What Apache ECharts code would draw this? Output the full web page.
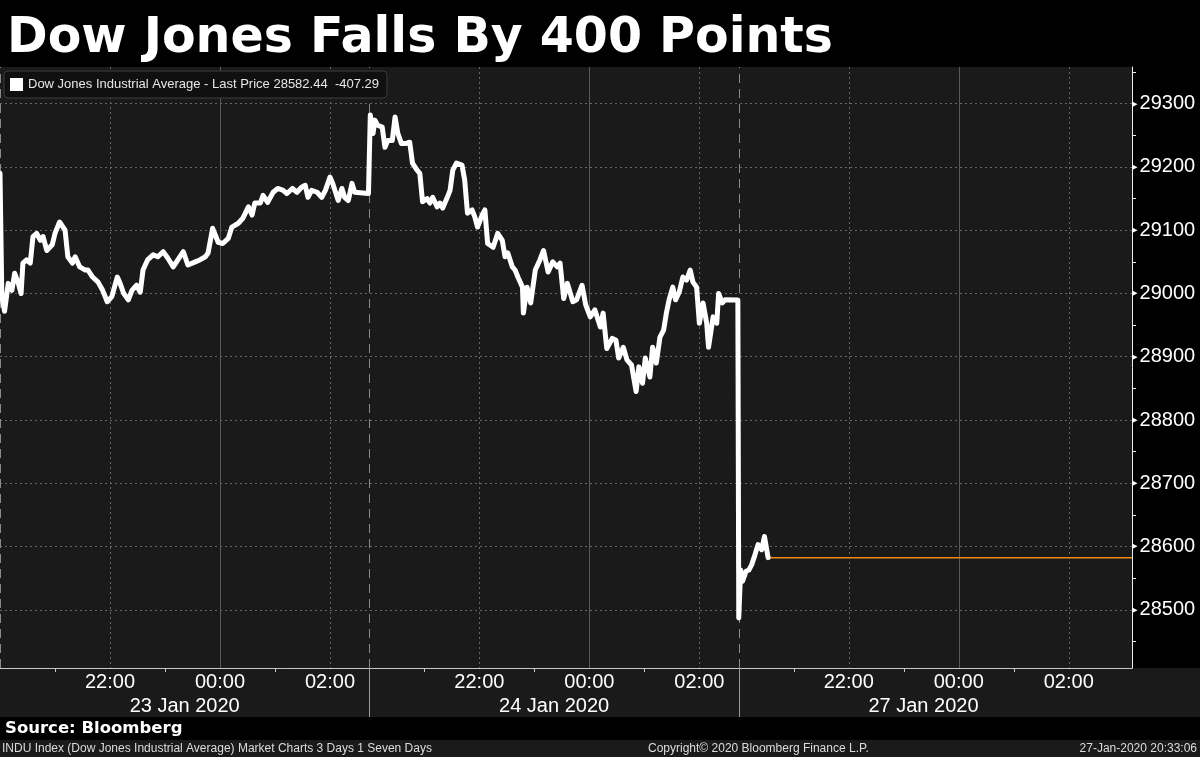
<!DOCTYPE html>
<html>
<head>
<meta charset="utf-8">
<title>Dow Jones Falls By 400 Points</title>
<script src="https://cdn.jsdelivr.net/npm/echarts@6.0.0/dist/echarts.min.js"></script>
<style>
  html, body { margin: 0; padding: 0; background: #000; }
  #chart { width: 1200px; height: 757px; }
</style>
</head>
<body>
<div id="chart"></div>
<script>
// x values are minutes since 20:00 of each session, one segment per trading day
const dayLength = 403
const axisMax = 1235
const dayNames = ['23 Jan 2020', '24 Jan 2020', '27 Jan 2020']
const hourTicks = [120, 240, 360]       // 22:00, 00:00, 02:00
const hourLabels = ['22:00', '00:00', '02:00']
const oddHourTicks = [60, 180, 300]     // 21:00, 23:00, 01:00
const priceTicks = [28500, 28600, 28700, 28800, 28900, 29000, 29100, 29200, 29300]
const priceMinorTicks = [28450, 28550, 28650, 28750, 28850, 28950, 29050, 29150, 29250, 29350]
const yMin = 28408
const yMax = 29358
const prevClose = 28989.73
const seriesName = 'Dow Jones Industrial Average'

const day1 = [
  [0, 29190], [2, 28995], [5, 28972], [9, 29016], [13, 29005], [16, 29032], [20, 29016], [23, 29000],
  [25, 29048], [29, 29053], [33, 29048], [36, 29090], [40, 29095], [44, 29084], [47, 29090], [51, 29068],
  [57, 29077], [60, 29095], [65, 29113], [71, 29100], [74, 29058], [79, 29048], [82, 29058], [87, 29042],
  [93, 29037], [96, 29037], [101, 29026], [107, 29018], [112, 29005], [117, 28987], [122, 28995], [128, 29026],
  [131, 29016], [135, 29000], [140, 28990], [144, 29005], [149, 29013], [153, 29002], [156, 29037], [161, 29053],
  [167, 29061], [172, 29058], [178, 29066], [183, 29056], [189, 29042], [194, 29053], [200, 29066], [205, 29045],
  [213, 29050], [218, 29053], [224, 29058], [227, 29064], [232, 29103], [238, 29081], [243, 29079], [249, 29087],
  [253, 29105], [260, 29111], [265, 29119], [271, 29137], [275, 29124], [278, 29143], [284, 29143], [287, 29155],
  [292, 29144], [298, 29160], [303, 29166], [309, 29163], [313, 29158], [319, 29166], [324, 29160], [329, 29168],
  [333, 29171], [336, 29152], [340, 29163], [346, 29160], [351, 29152], [355, 29163], [360, 29184], [363, 29174],
  [369, 29147], [373, 29166], [376, 29152], [380, 29147], [384, 29174], [387, 29160], [402, 29158]
]
const day2 = [
  [1, 29282], [4, 29253], [6, 29274], [9, 29266], [14, 29263], [17, 29231], [20, 29242], [25, 29242],
  [28, 29279], [31, 29253], [35, 29237], [39, 29237], [44, 29239], [47, 29206], [52, 29195], [55, 29190],
  [58, 29145], [63, 29150], [66, 29143], [69, 29152], [74, 29137], [77, 29143], [80, 29135], [85, 29152],
  [88, 29163], [91, 29195], [95, 29206], [101, 29203], [104, 29179], [107, 29127], [112, 29132], [115, 29121],
  [118, 29105], [123, 29124], [126, 29132], [129, 29079], [135, 29073], [140, 29095], [145, 29084], [148, 29058],
  [151, 29064], [156, 29042], [159, 29037], [162, 29026], [167, 29010], [168, 28969], [172, 29010], [176, 28985],
  [181, 29037], [186, 29053], [190, 29068], [195, 29034], [200, 29050], [205, 29042], [208, 29048], [212, 28992],
  [216, 29016], [222, 28987], [226, 28990], [232, 29013], [236, 28982], [241, 28963], [246, 28974], [252, 28947],
  [255, 28969], [259, 28913], [265, 28929], [269, 28926], [272, 28898], [277, 28915], [281, 28895], [286, 28887],
  [291, 28845], [294, 28884], [298, 28858], [301, 28898], [306, 28868], [309, 28915], [313, 28890], [317, 28931],
  [321, 28942], [324, 28969], [327, 28990], [331, 29010], [334, 28990], [338, 29002], [342, 29026], [346, 29021],
  [350, 29037], [353, 29018], [357, 29010], [360, 28953], [364, 28985], [368, 28953], [370, 28915], [375, 28963],
  [379, 28953], [381, 29000], [385, 28985], [388, 28990], [402, 28989.73]
]
const day3 = [
  [0, 28487], [2, 28563], [4, 28545], [8, 28561], [11, 28563], [14, 28571], [17, 28584], [21, 28603],
  [25, 28595], [28, 28616], [32, 28582.44]
]

const days = [day1, day2, day3]
const lineData = []
days.forEach((d, i) => {
  d.forEach(p => lineData.push([p[0] + i * dayLength, p[1]]))
})
const lastPoint = lineData[lineData.length - 1]
const lastPrice = lastPoint[1]
const change = lastPrice - prevClose

const perDay = (arr) => {
  let out = []
  for (let i = 0; i < days.length; i++) {
    out = out.concat(arr.map(v => v + i * dayLength))
  }
  return out
}
const labelValues = perDay(hourTicks)
const midnightValues = perDay([240])
const boundaryValues = [dayLength, dayLength * 2]
const dayCenters = days.map((d, i) => i * dayLength + dayLength / 2)

const labelFont = 'Liberation Sans'

const chart = echarts.init(document.getElementById('chart'))
chart.setOption({
  backgroundColor: '#000',
  animation: false,
  title: {
    text: 'Dow Jones Falls By 400 Points',
    left: 2,
    top: 10,
    textStyle: { color: '#fff', fontSize: 49, fontWeight: 'bold', fontFamily: 'DejaVu Sans' }
  },
  legend: {
    left: 4,
    top: 71,
    data: [seriesName],
    icon: 'rect',
    itemWidth: 13,
    itemHeight: 13,
    itemGap: 0,
    padding: [7, 8, 7, 6],
    backgroundColor: '#101010',
    borderColor: '#3c3c3c',
    borderWidth: 1,
    borderRadius: 4,
    itemStyle: { color: '#fff' },
    textStyle: { color: '#e6e6e6', fontSize: 13, fontFamily: labelFont },
    formatter: name => name + ' - Last Price ' + lastPrice.toFixed(2) + '  ' + change.toFixed(2)
  },
  graphic: [
    { type: 'rect', z: -10, shape: { x: 0, y: 668, width: 1200, height: 49 }, style: { fill: '#1a1a1a' } },
    { type: 'rect', z: -10, shape: { x: 0, y: 740, width: 1200, height: 17 }, style: { fill: '#1a1a1a' } },
    { type: 'text', style: { text: 'Source: Bloomberg', x: 5, y: 729, fill: '#fff', font: 'bold 16.5px "DejaVu Sans"', textVerticalAlign: 'middle' } },
    { type: 'text', style: { text: 'INDU Index (Dow Jones Industrial Average) Market Charts 3 Days 1 Seven Days', x: 2, y: 749, fill: '#dcdcdc', font: '12px "Liberation Sans"', textVerticalAlign: 'middle' } },
    { type: 'text', style: { text: 'Copyright\u00a9 2020 Bloomberg Finance L.P.', x: 648, y: 749, fill: '#dcdcdc', font: '12px "Liberation Sans"', textVerticalAlign: 'middle' } },
    { type: 'text', style: { text: '27-Jan-2020 20:33:06', x: 1197, y: 749, fill: '#dcdcdc', font: '12px "Liberation Sans"', textAlign: 'right', textVerticalAlign: 'middle' } }
  ],
  grid: {
    left: 0,
    right: 68,
    top: 67,
    bottom: 89,
    outerBoundsMode: 'none',
    containLabel: false,
    show: true,
    backgroundColor: '#1a1a1a',
    borderWidth: 0
  },
  xAxis: [
    {
      type: 'value',
      position: 'bottom',
      min: 0,
      max: axisMax,
      axisLine: { show: true, onZero: false, lineStyle: { color: '#c8c8c8', width: 1 } },
      axisTick: { show: false, customValues: labelValues },
      axisLabel: {
        customValues: labelValues,
        color: '#fff',
        fontSize: 20,
        fontFamily: labelFont,
        margin: 4,
        formatter: v => hourLabels[hourTicks.indexOf(Math.round(v) % dayLength)]
      },
      splitLine: { show: true, lineStyle: { color: '#666', type: [2, 3], width: 1 } }
    },
    {
      type: 'value',
      position: 'bottom',
      min: 0,
      max: axisMax,
      axisLine: { show: false, onZero: false },
      axisTick: { show: true, customValues: perDay(oddHourTicks), length: 4, lineStyle: { color: '#c8c8c8' } },
      axisLabel: { show: false },
      splitLine: { show: false }
    },
    {
      type: 'value',
      position: 'bottom',
      min: 0,
      max: axisMax,
      axisLine: { show: false, onZero: false },
      axisTick: { show: true, customValues: boundaryValues, length: 49, lineStyle: { color: '#9a9a9a' } },
      axisLabel: { show: false },
      splitLine: { show: false }
    },
    {
      type: 'value',
      position: 'bottom',
      min: 0,
      max: axisMax,
      axisLine: { show: false, onZero: false },
      axisTick: { show: false, customValues: dayCenters },
      axisLabel: {
        customValues: dayCenters,
        color: '#fff',
        fontSize: 20,
        fontFamily: labelFont,
        margin: 28,
        formatter: v => dayNames[Math.floor(v / dayLength)]
      },
      splitLine: { show: false }
    }
  ],
  yAxis: [
    {
      // visible price axis: labels with small pointer, ticks every 50
      type: 'value',
      position: 'right',
      min: yMin,
      max: yMax,
      axisLine: { show: true, onZero: false, lineStyle: { color: '#f0f0f0', width: 1 } },
      axisTick: { show: true, customValues: priceMinorTicks, length: 4, lineStyle: { color: '#f0f0f0' } },
      axisLabel: {
        customValues: priceTicks,
        color: '#fff',
        fontSize: 20,
        fontFamily: labelFont,
        margin: 0,
        formatter: v => '{t|\u25B8}' + String(v),
        rich: {
          t: { fontSize: 11, fontFamily: 'DejaVu Sans', color: '#fff', padding: [0, 2, 0, 0] }
        }
      },
      splitLine: { show: false }
    },
    {
      // gridlines only, every 100
      type: 'value',
      position: 'left',
      min: yMin,
      max: yMax,
      axisLine: { show: false, onZero: false },
      axisTick: { show: false, customValues: priceTicks },
      axisLabel: { show: false },
      splitLine: { show: true, lineStyle: { color: '#666', type: [2, 3], width: 1 } }
    }
  ],
  series: [
    {
      name: seriesName,
      type: 'line',
      xAxisIndex: 0,
      yAxisIndex: 0,
      data: lineData,
      showSymbol: false,
      z: 5,
      lineStyle: { color: '#fff', width: 5, join: 'round', cap: 'round' },
      itemStyle: { color: '#fff' },
      markLine: {
        silent: true,
        symbol: 'none',
        label: { show: false },
        z: 1,
        data: midnightValues.map(v => ({ xAxis: v, lineStyle: { color: '#5a5a5a', type: 'solid', width: 1 } }))
          .concat([0].concat(boundaryValues).map(v => ({ xAxis: v, lineStyle: { color: '#8a8a8a', type: [9, 6], width: 1 } })))
      }
    },
    {
      name: 'Last Price',
      type: 'line',
      xAxisIndex: 0,
      yAxisIndex: 0,
      data: [[lastPoint[0], lastPrice], [axisMax, lastPrice]],
      showSymbol: false,
      z: 4,
      lineStyle: { color: '#ec8a14', width: 1.5 }
    }
  ]
})
</script>
</body>
</html>
